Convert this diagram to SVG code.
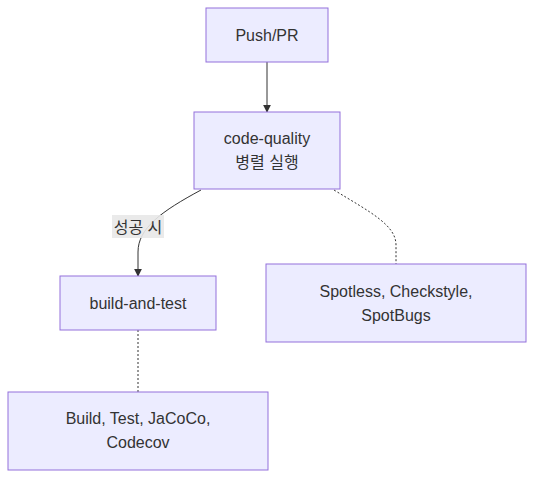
<svg xmlns="http://www.w3.org/2000/svg" width="534" height="478" viewBox="0 0 534 478">
<style>
.node rect{fill:#ECECFF;stroke:#9370DB;stroke-width:1px}
text{font-family:"Liberation Sans","Noto Sans CJK KR",Arial,sans-serif;font-size:16px;fill:#333;text-anchor:middle;dominant-baseline:central}
.edge{fill:none;stroke:#333;stroke-width:1px}
.dot{stroke-dasharray:2 2}
</style>
<defs>
<marker id="arrow" viewBox="0 0 10 10" refX="9" refY="5" markerWidth="8" markerHeight="8" markerUnits="userSpaceOnUse" orient="auto">
<path d="M0,0 L10,5 L0,10 z" fill="#333"/>
</marker>
</defs>
<rect width="534" height="478" fill="#fff"/>
<g id="connectors">
<path class="edge" d="M267,62 L267,112" marker-end="url(#arrow)"/>
<path class="edge" d="M201,190 C162,211 138,228 138,252 L138,276" marker-end="url(#arrow)"/>
<path class="edge dot" d="M334,190 C370,212 396,225 396,245 L396,264"/>
<path class="edge dot" d="M138,330 L138,392"/>
<rect x="112" y="215" width="52" height="23" fill="#e8e8e8" opacity="0.9"/>
<text x="138" y="227">성공 시</text>
</g>
<g id="push" class="node">
<rect x="206" y="8" width="122" height="54"/>
<text x="267" y="35">Push/PR</text>
</g>
<g id="codequality" class="node">
<rect x="194" y="112" width="146" height="77"/>
<text x="267" y="138">code-quality</text>
<text x="267" y="162">병렬 실행</text>
</g>
<g id="buildandtest" class="node">
<rect x="60" y="276" width="156" height="54"/>
<text x="138" y="303">build-and-test</text>
</g>
<g id="spotless" class="node">
<rect x="266" y="264" width="260" height="78"/>
<text x="396" y="291">Spotless, Checkstyle,</text>
<text x="396" y="315">SpotBugs</text>
</g>
<g id="build" class="node">
<rect x="8" y="392" width="260" height="78"/>
<text x="138" y="418">Build, Test, JaCoCo,</text>
<text x="138" y="442">Codecov</text>
</g>
</svg>
